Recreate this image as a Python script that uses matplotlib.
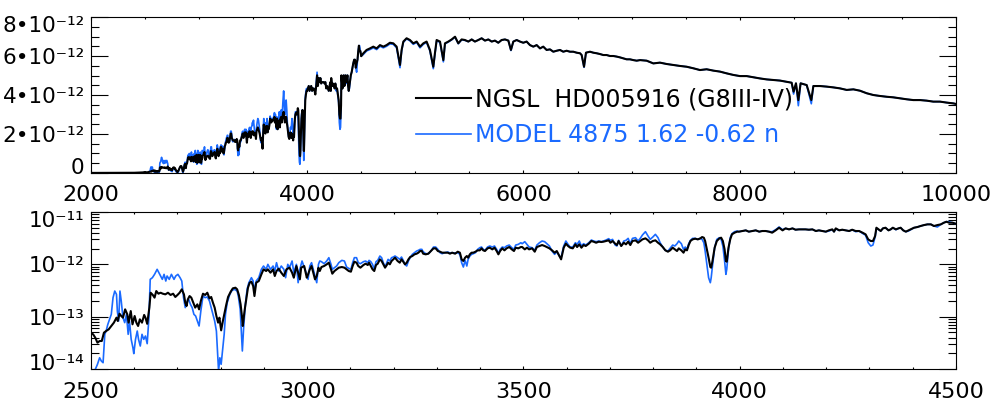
import numpy as np
import matplotlib
matplotlib.use("Agg")
from matplotlib import pyplot as plt
import matplotlib.transforms as mtransforms
from matplotlib.ticker import MultipleLocator, FixedLocator, FuncFormatter, NullFormatter

# fluxes are in units of 1e-12 erg/s/cm2/A, wavelengths in A
# 2000-3000 A: the two spectra were read off on different grids
uv_wave_ngsl = [2000, 2100, 2200, 2300, 2400, 2450, 2480,
    2499, 2505, 2510, 2515, 2520, 2525, 2530, 2535, 2541, 2547,
    2553, 2559, 2562, 2566, 2570, 2574, 2579, 2584, 2587, 2592,
    2596, 2601, 2605, 2609, 2613, 2618, 2623, 2626, 2630, 2635,
    2638, 2643, 2647, 2651, 2656, 2661, 2666, 2672, 2678, 2684,
    2690, 2695, 2700, 2705, 2710, 2715, 2718, 2721, 2724, 2728,
    2732, 2738, 2741, 2746, 2750, 2754, 2759, 2764, 2769, 2774,
    2778, 2782, 2786, 2790, 2794, 2797, 2801, 2805, 2809, 2813,
    2817, 2823, 2828, 2834, 2838, 2842, 2846, 2849, 2851, 2855,
    2859, 2863, 2867, 2871, 2875, 2878, 2882, 2888, 2894, 2899,
    2905, 2909, 2915, 2921, 2925, 2929, 2934, 2940, 2946, 2952,
    2959, 2965, 2969, 2975, 2979, 2983, 2986, 2993]
uv_flux_ngsl = [0.004, 0.005, 0.006, 0.008, 0.012, 0.02, 0.03,
    0.0495, 0.046, 0.0397, 0.0318, 0.0343, 0.0343, 0.0495, 0.0532, 0.0573, 0.0664,
    0.0769, 0.0958, 0.0827, 0.114, 0.103, 0.0958, 0.138, 0.111, 0.0769, 0.128,
    0.0714, 0.103, 0.0769, 0.0664, 0.089, 0.0769, 0.108, 0.0958, 0.073, 0.149,
    0.287, 0.26, 0.231, 0.309, 0.275, 0.287, 0.275, 0.267, 0.287, 0.26,
    0.275, 0.238, 0.26, 0.287, 0.333, 0.267, 0.185, 0.16, 0.214, 0.248,
    0.231, 0.172, 0.149, 0.172, 0.138, 0.199, 0.275, 0.26, 0.287, 0.224,
    0.238, 0.185, 0.149, 0.103, 0.0769, 0.0958, 0.0548, 0.0827, 0.119, 0.172,
    0.238, 0.30, 0.348, 0.358, 0.333, 0.26, 0.172, 0.103, 0.0664, 0.128,
    0.214, 0.358, 0.446, 0.466, 0.385, 0.248, 0.446, 0.48, 0.644, 0.803,
    0.746, 0.803, 0.693, 0.803, 0.599, 0.746, 0.826, 0.693, 0.599, 0.803,
    0.864, 0.693, 0.556, 0.929, 0.693, 0.517, 0.864, 0.929]

uv_wave_model = [2000, 2200, 2400, 2480,
    2499, 2508, 2515, 2520, 2524, 2528, 2532, 2535, 2539, 2543,
    2547, 2551, 2555, 2559, 2561, 2564, 2567, 2570, 2574, 2578,
    2582, 2586, 2589, 2593, 2597, 2599, 2603, 2607, 2610, 2614,
    2618, 2622, 2626, 2630, 2634, 2637, 2642, 2647, 2653, 2657,
    2661, 2665, 2669, 2673, 2676, 2681, 2686, 2692, 2696, 2701,
    2706, 2710, 2714, 2718, 2723, 2726, 2730, 2734, 2738, 2742,
    2746, 2750, 2754, 2759, 2764, 2769, 2774, 2778, 2783, 2786,
    2790, 2792, 2795, 2798, 2801, 2804, 2808, 2811, 2815, 2821,
    2826, 2832, 2838, 2841, 2845, 2848, 2850, 2853, 2857, 2861,
    2865, 2871, 2875, 2878, 2882, 2888, 2894, 2899, 2905, 2909,
    2915, 2921, 2925, 2929, 2934, 2940, 2946, 2950, 2955, 2959,
    2965, 2969, 2975, 2979, 2982, 2988, 2992]
uv_flux_model = [0.001, 0.002, 0.004, 0.007,
    0.009, 0.009, 0.0123, 0.0164, 0.0142, 0.0132, 0.046, 0.0532, 0.0714, 0.089,
    0.111, 0.231, 0.309, 0.267, 0.128, 0.0827, 0.309, 0.199, 0.0958, 0.0769,
    0.111, 0.046, 0.0827, 0.0369, 0.0255, 0.0197, 0.0369, 0.0532, 0.0369, 0.0275,
    0.046, 0.0369, 0.0427, 0.0305, 0.0958, 0.517, 0.556, 0.644, 0.803, 0.693,
    0.599, 0.517, 0.644, 0.48, 0.599, 0.517, 0.644, 0.517, 0.599, 0.644,
    0.556, 0.48, 0.231, 0.149, 0.199, 0.214, 0.172, 0.149, 0.111, 0.103,
    0.0827, 0.0664, 0.128, 0.248, 0.231, 0.238, 0.199, 0.149, 0.103, 0.0827,
    0.0532, 0.0255, 0.0092, 0.0164, 0.0123, 0.0221, 0.046, 0.111, 0.185, 0.267,
    0.318, 0.333, 0.309, 0.238, 0.138, 0.046, 0.0221, 0.0617, 0.172, 0.333,
    0.446, 0.556, 0.48, 0.287, 0.48, 0.556, 0.803, 0.929, 0.803, 1.0,
    0.803, 0.929, 0.746, 1.076, 0.746, 0.929, 0.803, 0.556, 1.0, 0.864,
    1.158, 0.693, 1.0, 0.446, 0.746, 1.158, 0.929]

# 3000-10000 A, common grid
wave = [2999, 3002, 3006, 3010, 3014, 3018, 3022, 3026, 3029, 3033,
    3039, 3045, 3050, 3055, 3058, 3063, 3068, 3073, 3080, 3086,
    3091, 3096, 3101, 3105, 3109, 3114, 3118, 3123, 3130, 3135,
    3140, 3143, 3147, 3151, 3155, 3159, 3163, 3168, 3172, 3176,
    3180, 3184, 3187, 3191, 3195, 3199, 3203, 3209, 3214, 3218,
    3222, 3226, 3230, 3234, 3238, 3243, 3248, 3253, 3257, 3261,
    3265, 3268, 3274, 3280, 3286, 3292, 3297, 3302, 3307, 3312,
    3318, 3325, 3330, 3335, 3342, 3348, 3353, 3357, 3361, 3365,
    3369, 3372, 3376, 3380, 3384, 3389, 3394, 3399, 3403, 3407,
    3411, 3417, 3422, 3428, 3433, 3438, 3442, 3446, 3451, 3456,
    3461, 3467, 3473, 3478, 3482, 3488, 3494,
    3497, 3503, 3508, 3513, 3520, 3526, 3531, 3537, 3543, 3549,
    3554, 3560, 3566, 3572, 3577, 3583, 3587, 3593, 3598, 3603,
    3608, 3614, 3620, 3624, 3629, 3634, 3639, 3644, 3651, 3657,
    3662, 3668, 3674, 3680, 3685, 3691, 3697, 3701, 3706, 3712,
    3716, 3720, 3726, 3732, 3737, 3742, 3747, 3752, 3759, 3765,
    3770, 3775, 3782, 3788, 3793, 3799, 3805, 3811, 3816, 3822,
    3828, 3834, 3839, 3845, 3850, 3855, 3859, 3865, 3870, 3874,
    3878, 3882, 3886, 3891, 3897, 3903, 3909, 3913, 3917, 3920,
    3924, 3928, 3932, 3934, 3937, 3942, 3947, 3953, 3957, 3961,
    3965, 3968, 3970, 3974, 3978, 3982, 3988, 3994,
    3998, 4006, 4014, 4021, 4029, 4037, 4045, 4052, 4060, 4068,
    4075, 4083, 4091, 4099, 4106, 4114, 4122, 4129, 4137, 4145,
    4152, 4160, 4168, 4176, 4183, 4191, 4199, 4206, 4214, 4218,
    4222, 4230, 4237, 4245, 4253, 4260, 4268, 4276, 4284, 4291,
    4297, 4303, 4308, 4313, 4316, 4321, 4326, 4331, 4337, 4344,
    4349, 4354, 4361, 4367, 4372, 4378, 4384, 4390, 4395, 4403,
    4411, 4418, 4426, 4434, 4442, 4449, 4457, 4465, 4472, 4478,
    4484, 4492, 4499,
    4519, 4549, 4580, 4611, 4642, 4673, 4704, 4734, 4765, 4796,
    4827, 4858, 4873, 4889, 4919, 4950, 4981, 5012, 5043, 5074,
    5104, 5135, 5166, 5181, 5197, 5228, 5259, 5274, 5305, 5336,
    5367, 5397, 5428, 5459, 5490, 5521, 5551, 5582, 5613, 5644,
    5675, 5706, 5736, 5767, 5798, 5829, 5860, 5884, 5906, 5937,
    5968, 5998, 6029, 6060, 6091, 6122, 6153, 6183, 6214, 6245,
    6276, 6307, 6338, 6368, 6399, 6430, 6461, 6492, 6523, 6538,
    6560, 6578, 6615, 6646, 6677, 6708, 6738, 6769, 6800, 6831,
    6862, 6892, 6923, 6954, 6985, 7016, 7047,
    7078, 7139, 7201, 7262, 7324, 7386, 7447, 7509, 7571, 7632,
    7694, 7756, 7817, 7879, 7940, 8002, 8064, 8126, 8187, 8249,
    8309, 8372, 8434, 8480, 8498, 8520, 8542, 8563, 8619, 8662,
    8681, 8742, 8804, 8866, 8927, 8989, 9051, 9112, 9174, 9235,
    9297, 9359, 9420, 9482, 9544, 9605, 9667, 9729, 9790, 9852,
    9914, 9975, 10000]

flux_ngsl = [0.556, 0.644, 0.803, 0.929, 0.693, 0.517, 0.599, 0.864, 0.746, 0.889,
    0.929, 1.0, 1.076, 0.803, 0.663, 0.746, 0.803, 0.864, 0.889, 0.864,
    0.803, 0.746, 0.724, 0.929, 1.124, 1.076, 0.929, 0.864, 0.971, 1.03,
    0.971, 1.076, 0.929, 0.803, 0.746, 0.971, 1.03, 1.246, 1.158, 1.0,
    0.864, 0.971, 1.076, 1.0, 1.158, 1.246, 1.341, 1.158, 1.076, 1.246,
    1.124, 1.0, 1.076, 1.246, 1.381, 1.443, 1.553, 1.599, 1.671, 1.798,
    1.798, 1.599, 1.553, 1.599, 1.798, 2.022, 2.022, 1.798, 1.745, 1.671,
    1.671, 1.671, 1.599, 1.671, 1.599, 1.745, 1.671, 1.246, 1.158, 1.341,
    1.443, 1.341, 1.553, 1.671, 1.671, 1.745, 1.852, 1.852, 2.022, 1.852,
    1.798, 2.022, 2.082, 1.933, 2.082, 1.798, 1.553, 1.798, 2.022, 1.852,
    2.022, 2.143, 1.933, 1.798, 2.082, 2.022, 2.143,
    2.144, 1.934, 2.082, 1.934, 2.022, 1.746, 2.144, 2.242, 2.339, 2.242,
    2.144, 2.022, 1.852, 1.671, 1.798, 1.443, 1.246, 2.082, 2.483, 2.242,
    2.082, 2.022, 2.41, 2.144, 2.41, 2.082, 2.339, 2.242, 2.483, 2.792,
    2.711, 2.59, 2.711, 2.672, 2.711, 2.792, 2.877, 2.59, 2.792, 2.483,
    2.339, 2.792, 2.242, 2.59, 2.41, 2.711, 2.339, 2.792, 2.877, 2.59,
    2.792, 3.0, 3.139, 2.877, 2.59, 2.792, 2.877, 2.59, 2.41, 2.144,
    1.852, 1.746, 1.852, 2.082, 1.934, 1.798, 2.022, 1.852, 1.671, 1.934,
    1.852, 2.339, 2.792, 3.0, 3.093, 3.0, 3.139, 3.326, 3.233, 2.792,
    1.934, 1.341, 0.889, 0.864, 1.158, 2.082, 2.792, 3.139, 3.233, 2.792,
    1.934, 1.158, 1.124, 2.082, 3.0, 3.743, 4.027, 4.214,
    4.21, 4.335, 4.463, 4.21, 4.335, 4.463, 4.21, 4.335, 4.335, 4.21,
    4.027, 4.463, 5.01, 4.463, 4.87, 4.66, 4.87, 4.59, 4.66, 4.66,
    4.66, 4.59, 4.66, 4.335, 4.463, 4.335, 4.21, 4.463, 4.66, 4.21,
    4.87, 4.463, 4.59, 4.463, 4.335, 4.59, 4.335, 4.335, 4.027, 3.743,
    3.0, 2.792, 2.792, 3.478, 5.01, 4.66, 4.335, 4.87, 5.01, 4.463,
    4.66, 5.01, 4.66, 4.87, 5.01, 4.463, 4.21, 4.463, 4.66, 5.01,
    5.17, 5.40, 5.63, 5.81, 5.81, 5.40, 5.63, 5.81, 6.25, 6.53,
    6.25, 6.25, 5.99,
    6.14, 6.31, 6.39, 6.48, 6.39, 6.56, 6.48, 6.56, 6.68, 6.65,
    6.48, 5.54, 6.31, 6.74, 6.91, 6.82, 6.65, 6.74, 6.48, 6.65,
    6.74, 6.31, 5.45, 6.14, 6.82, 6.74, 5.79, 6.65, 6.74, 6.85,
    6.99, 6.65, 6.85, 6.82, 6.74, 6.85, 6.74, 6.82, 6.91, 6.79,
    6.85, 6.74, 6.79, 6.68, 6.82, 6.85, 6.79, 6.31, 6.74, 6.82,
    6.74, 6.68, 6.74, 6.56, 6.48, 6.56, 6.39, 6.48, 6.31, 6.34,
    6.22, 6.27, 6.31, 6.22, 6.27, 6.22, 6.22, 6.17, 6.14, 6.05,
    5.45, 6.17, 6.22, 6.17, 6.14, 6.10, 6.05, 6.05, 6.00, 6.00,
    5.97, 5.93, 5.88, 5.83, 5.83, 5.79, 5.76,
    5.79, 5.76, 5.62, 5.66, 5.59, 5.54, 5.49, 5.45, 5.37, 5.28,
    5.32, 5.25, 5.20, 5.11, 5.03, 4.97, 4.97, 4.91, 4.85, 4.80,
    4.77, 4.74, 4.68, 4.63, 4.17, 4.60, 3.74, 4.60, 4.51, 3.74,
    4.46, 4.46, 4.43, 4.39, 4.34, 4.26, 4.29, 4.22, 4.09, 4.00,
    3.95, 3.91, 3.88, 3.83, 3.78, 3.74, 3.74, 3.71, 3.66, 3.66,
    3.61, 3.57, 3.54]

flux_model = [0.644, 0.517, 0.929, 1.076, 0.803, 0.599, 0.446, 1.0, 1.158, 1.124,
    1.03, 1.158, 1.341, 1.0, 0.803, 0.864, 0.929, 1.076, 1.192, 1.158,
    0.889, 0.838, 0.803, 1.076, 1.341, 1.341, 1.076, 1.03, 1.124, 1.158,
    1.076, 1.192, 1.124, 1.0, 0.803, 1.124, 1.192, 1.443, 1.341, 1.076,
    0.889, 1.076, 1.246, 1.158, 1.341, 1.381, 1.443, 1.341, 1.246, 1.381,
    1.192, 1.0, 0.929, 1.158, 1.341, 1.553, 1.671, 1.798, 1.852, 1.934,
    1.934, 1.746, 1.599, 1.599, 1.798, 2.144, 2.144, 1.934, 1.671, 1.599,
    1.671, 1.72, 1.646, 1.671, 1.646, 1.671, 1.553, 1.076, 0.889, 1.192,
    0.929, 1.246, 1.443, 1.553, 1.599, 1.671, 1.934, 2.082, 2.144, 1.934,
    1.852, 2.144, 2.242, 2.144, 2.242, 1.934, 1.599, 1.934, 2.144, 2.082,
    2.242, 2.339, 2.082, 1.934, 2.339, 2.41, 2.59,
    2.483, 2.711, 2.41, 2.144, 2.082, 1.852, 2.339, 2.59, 2.792, 2.711,
    2.483, 2.242, 1.798, 1.553, 1.746, 1.443, 1.341, 2.242, 2.792, 2.41,
    2.144, 2.144, 2.59, 2.41, 2.792, 2.242, 2.483, 2.339, 2.59, 2.918,
    2.792, 2.711, 2.792, 2.711, 2.792, 2.918, 3.095, 2.877, 3.0, 2.339,
    2.242, 2.877, 2.242, 2.792, 2.877, 3.139, 2.483, 3.139, 3.233, 2.792,
    3.139, 3.634, 4.21, 3.477, 3.0, 3.326, 3.743, 3.233, 2.59, 2.144,
    1.852, 1.798, 2.022, 2.339, 2.242, 2.483, 2.792, 2.483, 1.934, 2.144,
    1.934, 2.483, 2.877, 3.139, 3.139, 3.0, 3.139, 3.0, 2.59, 1.798,
    1.0, 0.556, 0.446, 0.556, 0.929, 2.082, 3.0, 3.233, 3.0, 2.242,
    1.158, 0.644, 0.803, 1.934, 3.233, 3.855, 4.21, 4.335,
    4.21, 4.335, 4.463, 4.21, 4.335, 4.463, 4.21, 4.335, 4.335, 4.21,
    4.21, 4.59, 5.17, 4.59, 4.87, 4.66, 4.87, 4.59, 4.66, 4.66,
    4.66, 4.59, 4.66, 4.335, 4.463, 4.335, 4.21, 4.335, 4.59, 4.21,
    4.75, 4.463, 4.59, 4.463, 4.335, 4.59, 4.21, 4.335, 3.9, 3.6,
    2.59, 2.24, 2.34, 3.33, 4.87, 4.59, 4.335, 4.87, 5.01, 4.463,
    4.66, 5.01, 4.59, 4.87, 5.01, 4.463, 4.21, 4.335, 4.59, 5.01,
    5.17, 5.40, 5.63, 5.81, 5.81, 5.40, 5.17, 5.81, 6.25, 6.53,
    6.53, 6.25, 5.99,
    6.08, 6.26, 6.33, 6.42, 6.33, 6.50, 6.42, 6.50, 6.62, 6.60,
    6.42, 5.40, 6.25, 6.70, 6.88, 6.78, 6.60, 6.70, 6.42, 6.60,
    6.70, 6.25, 5.35, 6.08, 6.78, 6.70, 5.70, 6.62, 6.72, 6.83,
    6.97, 6.63, 6.83, 6.80, 6.74, 6.85, 6.74, 6.82, 6.91, 6.79,
    6.85, 6.74, 6.79, 6.68, 6.82, 6.85, 6.79, 6.28, 6.74, 6.82,
    6.74, 6.68, 6.74, 6.56, 6.48, 6.56, 6.39, 6.48, 6.31, 6.34,
    6.22, 6.27, 6.31, 6.22, 6.27, 6.22, 6.22, 6.17, 6.14, 6.05,
    5.42, 6.17, 6.22, 6.17, 6.14, 6.10, 6.05, 6.05, 6.00, 6.00,
    5.97, 5.93, 5.88, 5.83, 5.83, 5.79, 5.76,
    5.79, 5.76, 5.62, 5.66, 5.59, 5.54, 5.49, 5.45, 5.37, 5.28,
    5.32, 5.25, 5.20, 5.11, 5.03, 4.97, 4.97, 4.91, 4.85, 4.80,
    4.77, 4.74, 4.68, 4.63, 4.05, 4.60, 3.45, 4.60, 4.51, 3.55,
    4.46, 4.46, 4.43, 4.39, 4.34, 4.26, 4.29, 4.22, 4.09, 4.00,
    3.95, 3.91, 3.88, 3.83, 3.78, 3.74, 3.74, 3.71, 3.66, 3.66,
    3.61, 3.57, 3.54]

labels = ["NGSL  HD005916 (G8III-IV)", "MODEL 4875 1.62 -0.62 n"]
lin_ticks = [0, 2e-12, 4e-12, 6e-12, 8e-12]
log_ticks = [1e-14, 1e-13, 1e-12, 1e-11]
SUP = str.maketrans("-0123456789", "⁻⁰¹²³⁴⁵⁶⁷⁸⁹")

BLUE = "#1a6aff"
plt.rcParams["font.family"] = ["DejaVu Sans"]

w_ngsl = np.concatenate([uv_wave_ngsl, wave])
f_ngsl = np.concatenate([uv_flux_ngsl, flux_ngsl]) * 1e-12
w_mod = np.concatenate([uv_wave_model, wave])
f_mod = np.concatenate([uv_flux_model, flux_model]) * 1e-12

fig = plt.figure(figsize=(9.92, 4.04), dpi=100)
ax1 = fig.add_axes([0.0917, 0.5718, 0.872, 0.3861])
ax2 = fig.add_axes([0.0917, 0.0866, 0.872, 0.3886])

for ax in (ax1, ax2):
    lm, = ax.plot(w_mod, f_mod, color=BLUE, lw=1.2, zorder=2)
    ln, = ax.plot(w_ngsl, f_ngsl, color="black", lw=1.5, zorder=3)
    for s in ax.spines.values():
        s.set_linewidth(0.8)
    ax.tick_params(which="both", direction="in", top=True, right=True,
                   width=0.8, color="black")
    ax.tick_params(axis="y", which="major", length=12, pad=4.5, labelsize=15.5)
    ax.tick_params(axis="y", which="minor", length=6)
    ax.tick_params(axis="x", which="major", length=2.5, pad=9, labelsize=16)
    ax.tick_params(axis="x", which="minor", length=1.5)

ax1.set_xlim(2000, 10000)
ax1.set_ylim(0, 8e-12)
ax1.xaxis.set_major_locator(MultipleLocator(2000))
ax1.xaxis.set_minor_locator(MultipleLocator(500))
ax1.yaxis.set_major_locator(FixedLocator(lin_ticks))
ax1.yaxis.set_minor_locator(MultipleLocator(0.5e-12))
ax1.yaxis.set_major_formatter(FuncFormatter(
    lambda v, p: "0" if abs(v) < 1e-15 else "%d•10%s" % (round(v / 1e-12), "-12".translate(SUP))))

ax2.set_xlim(2500, 4500)
ax2.set_yscale("log")
ax2.set_ylim(1e-14, 1e-11)
ax2.xaxis.set_major_locator(MultipleLocator(500))
ax2.xaxis.set_minor_locator(MultipleLocator(100))
ax2.yaxis.set_major_locator(FixedLocator(log_ticks))
ax2.yaxis.set_minor_locator(FixedLocator(
    [m * t for t in log_ticks[:-1] for m in range(2, 10)]))
ax2.yaxis.set_minor_formatter(NullFormatter())
ax2.yaxis.set_major_formatter(FuncFormatter(
    lambda v, p: "10" + str(int(round(np.log10(v)))).translate(SUP)))

leg = ax1.legend([ln, lm], labels, loc="upper left", bbox_to_anchor=(0.376, 0.55),
                 frameon=False, fontsize=17, handlelength=2.3, handletextpad=0.2,
                 labelspacing=0.5, borderpad=0, borderaxespad=0, labelcolor="linecolor")

# end labels of the y axes sit a little inside the axis range
fig.canvas.draw()
for ax in (ax1, ax2):
    ticks = ax.yaxis.get_major_ticks()
    for tick, dy in ((ticks[0], 7), (ticks[-1], -7)):
        lab = tick.label1
        lab.set_transform(lab.get_transform() +
                          mtransforms.ScaledTranslation(0, dy / 100, fig.dpi_scale_trans))

fig.savefig("out.png", dpi=100)
